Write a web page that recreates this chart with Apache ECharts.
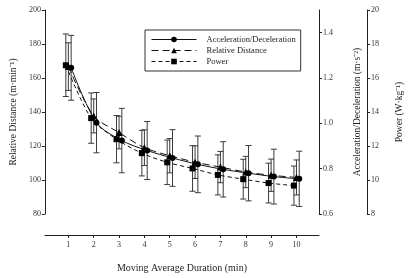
<!DOCTYPE html>
<html>
<head>
<meta charset="utf-8">
<script src="https://cdn.jsdelivr.net/npm/echarts@6/dist/echarts.min.js"></script>
<style>
  html, body { margin: 0; padding: 0; background: #fff; }
  #chart { width: 412px; height: 278px; }
</style>
</head>
<body>
<div id="chart"></div>
<script>
// moving average duration (min)
const durations = [1, 2, 3, 4, 5, 6, 7, 8, 9, 10];
const xTicks = [1, 2, 3, 4, 5, 6, 7, 8, 9, 10];

// Acceleration/Deceleration (m·s-2), mean and SD
const accelMean = [1.245, 1.003, 0.924, 0.880, 0.847, 0.819, 0.797, 0.780, 0.765, 0.755];
const accelSD = [0.143, 0.133, 0.142, 0.128, 0.125, 0.125, 0.122, 0.122, 0.121, 0.122];

// Relative Distance (m·min-1)
const distMean = [166.7, 137.7, 127.9, 119.0, 114.3, 110.5, 107.6, 104.7, 102.8, 101.5];
const distSD = [14.0, 10.0, 9.6, 10.5, 10.1, 9.6, 9.2, 9.2, 9.5, 10.3];

// Power (W·kg-1)
const powerMean = [16.75, 13.64, 12.40, 11.58, 11.04, 10.68, 10.30, 10.05, 9.82, 9.67];
const powerSD = [1.84, 1.48, 1.39, 1.34, 1.31, 1.34, 1.18, 1.17, 1.17, 1.15];

const accelTicks = [0.6, 0.8, 1.0, 1.2, 1.4];

const font = 'Liberation Serif';
const chart = echarts.init(document.getElementById('chart'));

// small sideways shift so the error bars don't sit on top of each other
const dodge = { accel: 0.11, dist: 0, power: -0.1 };

const points = (mean, shift) => durations.map((d, i) => [d + shift, mean[i]]);
const bars = (mean, sd, shift) => durations.map((d, i) => [d + shift, mean[i] - sd[i], mean[i] + sd[i]]);

const errorBar = (data, yIdx) => ({
  type: 'custom',
  yAxisIndex: yIdx,
  z: 1,
  silent: true,
  encode: { x: 0, y: [1, 2] },
  renderItem: function (params, api) {
    const lo = api.coord([api.value(0), api.value(1)]);
    const hi = api.coord([api.value(0), api.value(2)]);
    const w = 3;
    const style = { stroke: '#3a3a3a', lineWidth: 1 };
    return {
      type: 'group',
      children: [
        { type: 'line', shape: { x1: lo[0], y1: lo[1], x2: hi[0], y2: hi[1] }, style: style },
        { type: 'line', shape: { x1: lo[0] - w, y1: lo[1], x2: lo[0] + w, y2: lo[1] }, style: style },
        { type: 'line', shape: { x1: hi[0] - w, y1: hi[1], x2: hi[0] + w, y2: hi[1] }, style: style }
      ]
    };
  },
  data: data
});

const yAxisBase = {
  type: 'value',
  nameLocation: 'middle',
  nameRotate: 90,
  nameTextStyle: { fontFamily: font, fontSize: 9.5, color: '#222' },
  axisLine: { show: true, lineStyle: { color: '#222', width: 1 } },
  axisTick: { show: true, inside: false, length: 3, lineStyle: { color: '#222' } },
  axisLabel: { fontFamily: font, fontSize: 8, color: '#333', margin: 4 },
  splitLine: { show: false }
};

chart.setOption({
  animation: false,
  grid: { left: 35, right: 85, top: 10, bottom: 59 },
  legend: {
    orient: 'vertical',
    left: 145,
    top: 30,
    padding: [5, 5, 5, 6],
    itemWidth: 45,
    itemHeight: 7,
    itemGap: 2,
    borderColor: '#333',
    borderWidth: 1,
    lineStyle: { width: 1 },
    textStyle: { fontFamily: font, fontSize: 8.5, color: '#222', padding: [0, 0, 0, 5] },
    data: ['Acceleration/Deceleration', 'Relative Distance', 'Power']
  },
  xAxis: {
    type: 'value',
    min: 0.074,
    max: 10.89,
    offset: 21,
    name: 'Moving Average Duration (min)',
    nameLocation: 'middle',
    nameGap: 28,
    nameTextStyle: { fontFamily: font, fontSize: 10, color: '#222' },
    axisLine: { show: true, lineStyle: { color: '#222', width: 1 } },
    axisTick: { show: true, length: 3, customValues: xTicks, lineStyle: { color: '#222' } },
    axisLabel: { fontFamily: font, fontSize: 8, color: '#333', margin: 6, customValues: xTicks },
    splitLine: { show: false }
  },
  yAxis: [
    Object.assign({}, yAxisBase, {
      position: 'left',
      min: 80, max: 200, interval: 20,
      name: 'Relative Distance (m·min⁻¹)',
      nameGap: 26
    }),
    Object.assign({}, yAxisBase, {
      position: 'right',
      min: 0.6, max: 1.5,
      name: 'Acceleration/Deceleration (m·s⁻²)',
      nameGap: 33,
      axisTick: Object.assign({}, yAxisBase.axisTick, { customValues: accelTicks }),
      axisLabel: Object.assign({}, yAxisBase.axisLabel, {
        customValues: accelTicks,
        formatter: v => v.toFixed(1)
      })
    }),
    Object.assign({}, yAxisBase, {
      position: 'right',
      offset: 48,
      min: 8, max: 20, interval: 2,
      name: 'Power (W·kg⁻¹)',
      nameGap: 27
    })
  ],
  series: [
    errorBar(bars(accelMean, accelSD, dodge.accel), 1),
    errorBar(bars(distMean, distSD, dodge.dist), 0),
    errorBar(bars(powerMean, powerSD, dodge.power), 2),
    {
      name: 'Acceleration/Deceleration',
      type: 'line',
      yAxisIndex: 1,
      z: 3,
      smooth: 0.3,
      symbol: 'circle',
      symbolSize: 6,
      itemStyle: { color: '#000' },
      lineStyle: { color: '#111', width: 1, type: 'solid' },
      data: points(accelMean, dodge.accel)
    },
    {
      name: 'Relative Distance',
      type: 'line',
      yAxisIndex: 0,
      z: 3,
      smooth: 0.3,
      symbol: 'triangle',
      symbolSize: 7,
      itemStyle: { color: '#000' },
      lineStyle: { color: '#111', width: 1, type: [7, 4] },
      data: points(distMean, dodge.dist)
    },
    {
      name: 'Power',
      type: 'line',
      yAxisIndex: 2,
      z: 3,
      smooth: 0.3,
      symbol: 'rect',
      symbolSize: 6,
      itemStyle: { color: '#000' },
      lineStyle: { color: '#111', width: 1, type: [4, 3] },
      data: points(powerMean, dodge.power)
    }
  ]
});
</script>
</body>
</html>
